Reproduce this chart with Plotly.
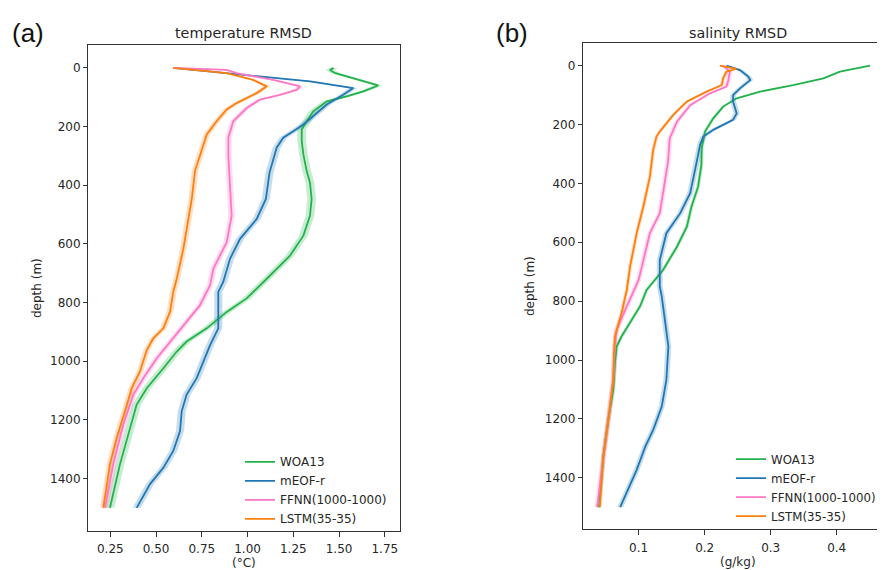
import plotly.graph_objects as go

# ---------------- data ----------------
series_names = ["WOA13", "mEOF-r", "FFNN(1000-1000)", "LSTM(35-35)"]
series_colors = ["#22b24c", "#1f77b4", "#ff77c4", "#ff7f0e"]
band_colors = ["rgba(34,178,76,0.25)", "rgba(31,119,180,0.25)",
               "rgba(255,119,196,0.25)", "rgba(255,127,14,0.25)"]

# temperature RMSD (°C)
t_woa_depth = [0, 7, 18, 41, 60, 80, 97, 114, 148, 182, 210, 250, 295, 351, 391, 447, 504, 572,
               640, 719, 786, 832, 888, 933, 967, 1024, 1092, 1148, 1227, 1351, 1500]
t_woa_val = [1.47, 1.45, 1.48, 1.615, 1.714, 1.633, 1.542, 1.433, 1.359, 1.323, 1.296, 1.296, 1.305,
             1.323, 1.341, 1.35, 1.341, 1.305, 1.232, 1.105, 0.995, 0.886, 0.777, 0.667, 0.613,
             0.54, 0.449, 0.394, 0.358, 0.303, 0.248]

t_meof_depth = [0, 29, 46, 69, 92, 125, 154, 193, 216, 238, 272, 317, 357, 447, 515, 583, 651, 730,
                764, 888, 945, 1058, 1114, 1171, 1238, 1306, 1363, 1419, 1500]
t_meof_val = [0.594, 1.068, 1.341, 1.578, 1.523, 1.433, 1.378, 1.305, 1.25, 1.195, 1.159, 1.14,
              1.12, 1.10, 1.05, 0.959, 0.904, 0.867, 0.84, 0.84, 0.795, 0.722, 0.667, 0.64,
              0.631, 0.594, 0.54, 0.467, 0.394]

t_ffnn_depth = [0, 7, 18, 41, 63, 75, 92, 108, 137, 182, 238, 300, 402, 504, 594, 685, 741, 809,
                865, 933, 990, 1058, 1114, 1216, 1351, 1500]
t_ffnn_val = [0.594, 0.886, 0.94, 1.14, 1.287, 1.268, 1.177, 1.068, 0.995, 0.922, 0.895, 0.895,
              0.904, 0.913, 0.886, 0.813, 0.795, 0.74, 0.667, 0.576, 0.504, 0.43, 0.376, 0.321,
              0.266, 0.221]

t_lstm_depth = [0, 18, 41, 63, 86, 120, 142, 182, 227, 295, 351, 447, 515, 617, 719, 764, 832, 888,
                922, 962, 1035, 1092, 1171, 1261, 1351, 1500]
t_lstm_val = [0.594, 0.886, 1.031, 1.105, 1.05, 0.94, 0.886, 0.831, 0.777, 0.74, 0.713, 0.695,
              0.676, 0.649, 0.613, 0.594, 0.576, 0.54, 0.485, 0.449, 0.412, 0.367, 0.33, 0.285,
              0.248, 0.212]

t_band = [0.024, 0.022, 0.018, 0.018]

# salinity RMSD (g/kg)
s_woa_depth = [0, 20, 43, 66, 88, 111, 139, 179, 224, 280, 337, 411, 479, 547, 615, 694, 762, 818,
               920, 954, 1011, 1101, 1203, 1328, 1500]
s_woa_val = [0.4505, 0.405, 0.380, 0.334, 0.284, 0.2485, 0.228, 0.213, 0.2005, 0.1955, 0.195,
             0.190, 0.180, 0.173, 0.158, 0.137, 0.112, 0.102, 0.074, 0.0667, 0.064, 0.0615,
             0.054, 0.0464, 0.040]

s_meof_depth = [0, 15, 37, 49, 77, 100, 122, 162, 184, 218, 241, 269, 326, 433, 501, 569, 660, 750,
                784, 897, 954, 1067, 1158, 1237, 1294, 1373, 1500]
s_meof_val = [0.233, 0.2535, 0.266, 0.269, 0.2535, 0.243, 0.243, 0.2485, 0.243, 0.213, 0.198,
              0.193, 0.188, 0.178, 0.163, 0.142, 0.132, 0.132, 0.135, 0.142, 0.145, 0.142, 0.135,
              0.122, 0.110, 0.097, 0.072]

s_ffnn_depth = [0, 20, 49, 71, 94, 134, 190, 247, 326, 433, 501, 569, 660, 728, 818, 897, 954, 1067,
                1203, 1328, 1500]
s_ffnn_val = [0.228, 0.238, 0.236, 0.233, 0.208, 0.178, 0.158, 0.147, 0.1445, 0.137, 0.132, 0.117,
              0.107, 0.100, 0.082, 0.0667, 0.064, 0.0615, 0.054, 0.0464, 0.037]

s_lstm_depth = [0, 5, 11, 20, 43, 66, 88, 122, 167, 224, 241, 286, 377, 479, 569, 682, 762, 841, 920,
                977, 1067, 1203, 1328, 1500]
s_lstm_val = [0.223, 0.235, 0.248, 0.233, 0.228, 0.226, 0.203, 0.173, 0.1525, 0.132, 0.127, 0.122,
              0.117, 0.107, 0.097, 0.087, 0.082, 0.074, 0.064, 0.0626, 0.0615, 0.054, 0.0464, 0.041]

s_band = [0.003, 0.0045, 0.004, 0.003]

temp_ticks = [0.25, 0.50, 0.75, 1.00, 1.25, 1.50, 1.75]
temp_ticklabels = ["0.25", "0.50", "0.75", "1.00", "1.25", "1.50", "1.75"]
sal_ticks = [0.1, 0.2, 0.3, 0.4]
sal_ticklabels = ["0.1", "0.2", "0.3", "0.4"]
depth_ticks = [0, 200, 400, 600, 800, 1000, 1200, 1400]

# ---------------- figure ----------------
# The page body keeps its default 8px margin, so the figure is placed at (8, 8)
# in the 885x570 window; positions below are given in window pixels.
OFF = 8
W, H = 885 - OFF, 570 - OFF
FONT = "DejaVu Sans"
TXT = "#262626"

fig = go.Figure()

temp_series = [(t_woa_depth, t_woa_val), (t_meof_depth, t_meof_val),
               (t_ffnn_depth, t_ffnn_val), (t_lstm_depth, t_lstm_val)]
sal_series = [(s_woa_depth, s_woa_val), (s_meof_depth, s_meof_val),
              (s_ffnn_depth, s_ffnn_val), (s_lstm_depth, s_lstm_val)]


def add_panel(series, bands, xa, ya, legend_name):
    for i, (d, v) in enumerate(series):
        w = bands[i]
        bx = [x + w for x in v] + [x - w for x in v[::-1]]
        by = list(d) + list(d[::-1])
        fig.add_trace(go.Scatter(x=bx, y=by, xaxis=xa, yaxis=ya, fill="toself",
                                 fillcolor=band_colors[i], line=dict(width=0),
                                 mode="lines", hoverinfo="skip", showlegend=False))
    for i, (d, v) in enumerate(series):
        fig.add_trace(go.Scatter(x=v, y=d, xaxis=xa, yaxis=ya, mode="lines",
                                 line=dict(color=series_colors[i], width=1.8),
                                 name=series_names[i], legend=legend_name))


add_panel(temp_series, t_band, "x", "y", "legend")
add_panel(sal_series, s_band, "x2", "y2", "legend2")


def px_x(p):
    return min(1.0, (p - OFF) / W)


def px_y(p):
    return 1 - (p - OFF) / H


common = dict(showline=True, linecolor="#333333", linewidth=1, ticks="outside",
              tickcolor="#333333", tickfont=dict(family=FONT, size=12, color=TXT),
              showgrid=False, zeroline=False, automargin=False)
xcommon = dict(ticklen=5, ticklabelstandoff=2, **common)
ycommon = dict(ticklen=4, **common)

fig.update_layout(
    width=W, height=H, margin=dict(l=0, r=0, t=0, b=0, autoexpand=False),
    paper_bgcolor="white", plot_bgcolor="white",
    xaxis=dict(domain=[px_x(88), px_x(400)], range=[0.128, 1.833], anchor="y",
               tickvals=temp_ticks, ticktext=temp_ticklabels, mirror=True, **xcommon),
    yaxis=dict(domain=[px_y(530.7), px_y(45)], range=[1578, -78], anchor="x",
               tickvals=depth_ticks, mirror=True, **ycommon),
    xaxis2=dict(domain=[px_x(582.7), 1.0], range=[0.0152, 0.4732], anchor="y2",
                tickvals=sal_ticks, ticktext=sal_ticklabels, mirror=True, **xcommon),
    yaxis2=dict(domain=[px_y(529.3), px_y(43.3)], range=[1575, -76], anchor="x2",
                tickvals=depth_ticks, mirror=False, **ycommon),
    legend=dict(x=px_x(240), y=px_y(447.3), xanchor="left", yanchor="top",
                bgcolor="rgba(0,0,0,0)", font=dict(family=FONT, size=12, color=TXT),
                tracegroupgap=0),
    legend2=dict(x=px_x(731), y=px_y(444.7), xanchor="left", yanchor="top",
                 bgcolor="rgba(0,0,0,0)", font=dict(family=FONT, size=11.8, color=TXT),
                 tracegroupgap=0, borderwidth=0),
    showlegend=True,
)

ann = [
    dict(text="(a)", x=px_x(28), y=px_y(33), font=dict(family="Liberation Sans", size=26, color="#111")),
    dict(text="(b)", x=px_x(511.7), y=px_y(33), font=dict(family="Liberation Sans", size=26, color="#111")),
    dict(text="temperature RMSD", x=px_x(243), y=px_y(33), font=dict(family=FONT, size=14.3, color=TXT)),
    dict(text="salinity RMSD", x=px_x(737.7), y=px_y(33), font=dict(family=FONT, size=14.3, color=TXT)),
    dict(text="depth (m)", x=px_x(37), y=px_y(288), textangle=-90, font=dict(family=FONT, size=12, color=TXT)),
    dict(text="depth (m)", x=px_x(530), y=px_y(286), textangle=-90, font=dict(family=FONT, size=12, color=TXT)),
    dict(text="(°C)", x=px_x(244), y=px_y(563), font=dict(family=FONT, size=12, color=TXT)),
    dict(text="(g/kg)", x=px_x(737.7), y=px_y(562), font=dict(family=FONT, size=12, color=TXT)),
]
for a in ann:
    fig.add_annotation(xref="paper", yref="paper", showarrow=False, xanchor="center",
                       yanchor="middle", **a)

fig.write_html("out.html")
